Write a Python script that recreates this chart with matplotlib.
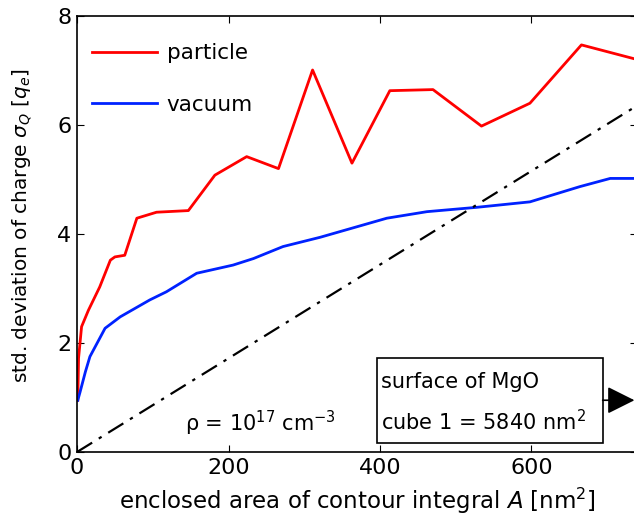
import matplotlib
matplotlib.use("Agg")
import matplotlib.pyplot as plt
from matplotlib.patches import Rectangle

plt.rcParams['font.family'] = ['DejaVu Sans']
plt.rcParams['mathtext.fontset'] = 'dejavusans'

# enclosed area [nm^2] vs. std. deviation of charge [q_e]
particle_x = [1, 2, 6, 15, 30, 44, 50, 63, 79, 105, 147, 182, 224, 266, 311,
              363, 413, 470, 534, 598, 666, 740]
particle_y = [0.95, 1.72, 2.3, 2.6, 3.03, 3.52, 3.58, 3.61, 4.29, 4.40, 4.43,
              5.08, 5.42, 5.20, 7.01, 5.30, 6.63, 6.65, 5.98, 6.40, 7.47, 7.20]

vacuum_x = [1, 4, 11, 17, 37, 57, 96, 118, 158, 206, 233, 272, 321, 409, 462,
            528, 598, 664, 704, 740]
vacuum_y = [0.95, 1.1, 1.47, 1.75, 2.27, 2.48, 2.79, 2.94, 3.28, 3.43, 3.55,
            3.77, 3.94, 4.29, 4.41, 4.49, 4.59, 4.87, 5.02, 5.02]

ref_x = [0, 740]
ref_y = [0, 6.36]

fig = plt.figure(figsize=(6.34, 5.27), dpi=100)
ax = fig.add_axes([0.1215, 0.1423, 0.884, 0.8273])

ax.plot(particle_x, particle_y, color='#ff0000', lw=2.0, label='particle')
ax.plot(vacuum_x, vacuum_y, color='#0022ff', lw=2.0, label='vacuum')
ax.plot(ref_x, ref_y, color='black', lw=1.6, linestyle=(0, (8, 3.5, 1.5, 3.5)))

ax.set_xlim(0, 740)
ax.set_ylim(0, 8)
ax.set_xticks([0, 200, 400, 600])
ax.set_yticks([0, 2, 4, 6, 8])
ax.tick_params(direction='in', top=True, right=True, length=5, labelsize=16, pad=4)
for s in ax.spines.values():
    s.set_linewidth(1.2)

ax.set_xlabel(r'enclosed area of contour integral $\mathit{A}$ [nm$^2$]', fontsize=16.5, labelpad=6)
ax.set_ylabel(r'std. deviation of charge $\sigma_{\mathit{Q}}$ [$\mathit{q}_{\mathit{e}}$]', fontsize=14.5)
ax.yaxis.set_label_coords(-0.076, 0.52)

ax.legend(loc='upper left', bbox_to_anchor=(0.012, 0.957), frameon=False,
          fontsize=15.5, handlelength=3.0, labelspacing=1.45,
          borderaxespad=0, handletextpad=0.45)

ax.text(143, 0.53, r'ρ = 10$^{17}$ cm$^{-3}$', fontsize=15, va='center')

ax.add_patch(Rectangle((396, 0.165), 298, 1.555, fill=False, edgecolor='black', lw=1.2, zorder=5))
ax.text(401, 1.28, 'surface of MgO', fontsize=15, va='center', zorder=6)
ax.text(401, 0.55, r'cube 1 = 5840 nm$^2$', fontsize=15, va='center', zorder=6)

ax.annotate('', xy=(736, 0.95), xytext=(694, 0.95),
            arrowprops=dict(arrowstyle='-|>,head_length=1.7,head_width=0.85',
                            color='black', lw=1.2, shrinkA=0, shrinkB=0),
            annotation_clip=False)

fig.savefig('out.png', dpi=100)
